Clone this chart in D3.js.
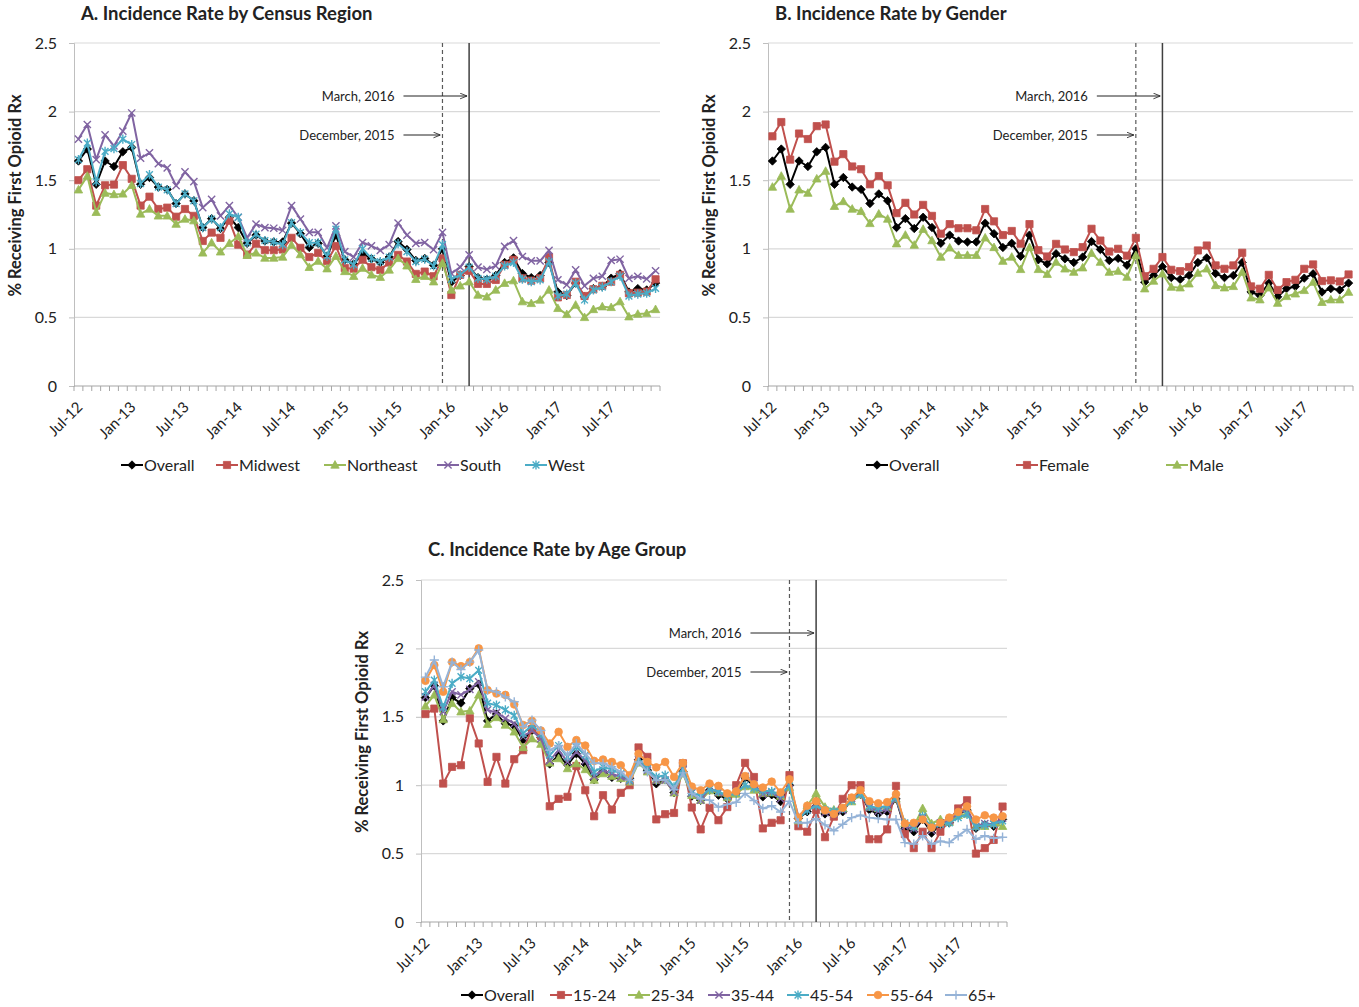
<!DOCTYPE html>
<html>
<head>
<meta charset="utf-8" />
<title>Incidence Rate of First Opioid Rx</title>
<script src="https://d3js.org/d3.v7.min.js"></script>
<style>
  body { margin: 0; background: #fff; }
  text { font-family: Lato, "Open Sans", sans-serif; fill: #222; }
</style>
</head>
<body>
<svg id="chart" width="1359" height="1007"></svg>
<script>
// ---- categories ----
var monthNames = ['Jan', 'Feb', 'Mar', 'Apr', 'May', 'Jun', 'Jul', 'Aug', 'Sep', 'Oct', 'Nov', 'Dec'];
var months = [];
for (var yr = 2012; yr <= 2017; yr++) {
  for (var mo = 0; mo < 12; mo++) {
    if (yr === 2012 && mo < 6) continue;
    months.push(monthNames[mo] + '-' + String(yr).slice(2));
  }
}
var yTicks = [0, 0.5, 1, 1.5, 2, 2.5];
var decLine = 'Dec-15';
var marLine = 'Mar-16';

// ---- series values (% receiving first opioid Rx) ----
var overall = [1.64,1.727,1.47,1.64,1.60,1.707,1.739,1.47,1.52,1.45,1.433,1.33,1.40,1.35,1.155,1.22,1.148,1.23,1.155,1.04,
  1.10,1.057,1.05,1.05,1.187,1.11,1.01,1.04,0.946,1.10,0.92,0.89,0.964,0.927,0.90,0.94,1.053,0.995,0.915,0.93,
  0.88,1.00,0.757,0.806,0.87,0.79,0.777,0.806,0.90,0.934,0.82,0.79,0.806,0.90,0.685,0.66,0.75,0.65,0.71,0.725,
  0.786,0.818,0.685,0.71,0.70,0.75];

var midwest = [1.50,1.58,1.315,1.463,1.468,1.61,1.51,1.315,1.38,1.29,1.30,1.234,1.29,1.24,1.057,1.118,1.08,1.205,1.03,0.958,
  1.037,0.99,0.99,0.995,1.08,1.007,0.94,0.97,0.91,1.02,0.86,0.855,0.92,0.866,0.846,0.90,0.956,0.907,0.817,0.834,
  0.80,0.93,0.663,0.81,0.84,0.744,0.744,0.773,0.883,0.92,0.785,0.768,0.785,0.94,0.646,0.663,0.76,0.656,0.705,0.73,
  0.76,0.81,0.676,0.68,0.688,0.778];
var northeast = [1.43,1.53,1.266,1.406,1.396,1.40,1.463,1.254,1.29,1.24,1.24,1.18,1.217,1.205,0.97,1.044,0.978,1.04,1.09,0.953,
  0.97,0.933,0.933,0.94,1.027,0.958,0.865,0.91,0.855,0.946,0.835,0.80,0.859,0.81,0.793,0.846,0.93,0.876,0.778,0.80,
  0.76,0.895,0.70,0.73,0.76,0.663,0.65,0.70,0.749,0.768,0.615,0.602,0.627,0.70,0.566,0.522,0.59,0.50,0.558,0.578,
  0.573,0.615,0.505,0.524,0.529,0.558];
var south = [1.80,1.906,1.65,1.83,1.75,1.857,1.99,1.66,1.70,1.62,1.59,1.46,1.56,1.49,1.30,1.36,1.24,1.315,1.23,1.08,
  1.18,1.155,1.15,1.135,1.315,1.217,1.12,1.12,1.007,1.167,0.98,0.94,1.046,1.022,0.988,1.03,1.188,1.10,1.04,1.046,
  0.993,1.12,0.82,0.866,0.956,0.866,0.85,0.876,1.017,1.06,0.944,0.912,0.912,0.988,0.773,0.737,0.846,0.73,0.785,0.80,
  0.915,0.924,0.785,0.80,0.78,0.84];
var west = [1.65,1.77,1.49,1.71,1.73,1.80,1.76,1.475,1.54,1.45,1.43,1.33,1.40,1.35,1.155,1.217,1.155,1.254,1.23,1.044,
  1.106,1.06,1.05,1.03,1.19,1.118,1.044,1.044,0.946,1.143,0.92,0.884,1.0,0.93,0.907,0.94,1.037,0.98,0.907,0.924,
  0.876,1.03,0.778,0.81,0.866,0.785,0.778,0.80,0.876,0.90,0.778,0.76,0.773,0.907,0.656,0.67,0.749,0.627,0.70,0.72,
  0.76,0.80,0.656,0.67,0.676,0.712];

var female = [1.82,1.924,1.65,1.84,1.80,1.894,1.906,1.635,1.69,1.60,1.58,1.47,1.53,1.463,1.26,1.335,1.25,1.32,1.24,1.11,
  1.18,1.15,1.15,1.135,1.29,1.20,1.10,1.13,1.037,1.18,0.99,0.944,1.036,0.995,0.976,1.012,1.146,1.06,0.98,1.0,
  0.95,1.08,0.80,0.854,0.94,0.847,0.837,0.867,0.988,1.024,0.879,0.854,0.879,0.971,0.726,0.709,0.81,0.70,0.757,0.774,
  0.854,0.886,0.765,0.77,0.762,0.813];
var male = [1.45,1.53,1.29,1.43,1.406,1.51,1.566,1.31,1.345,1.29,1.273,1.185,1.254,1.217,1.037,1.10,1.027,1.143,1.06,0.94,
  1.007,0.953,0.953,0.953,1.08,1.01,0.91,0.94,0.85,1.01,0.85,0.815,0.903,0.854,0.83,0.862,0.968,0.903,0.83,0.837,
  0.794,0.951,0.709,0.765,0.818,0.721,0.716,0.745,0.823,0.854,0.733,0.716,0.726,0.83,0.643,0.629,0.716,0.604,0.653,0.672,
  0.697,0.757,0.61,0.629,0.629,0.684];

var age1524 = [1.52,1.56,1.012,1.134,1.146,1.49,1.305,1.024,1.207,1.012,1.19,1.256,1.41,1.36,0.846,0.90,0.915,1.14,0.963,0.773,
  0.927,0.822,0.944,1.0,1.276,1.207,0.75,0.788,0.797,1.16,0.837,0.677,0.835,0.744,0.84,1.0,1.163,1.06,0.684,0.725,
  0.744,1.074,0.70,0.66,0.82,0.62,0.77,0.90,1.0,1.0,0.605,0.605,0.677,0.995,0.643,0.54,0.66,0.54,0.66,0.74,
  0.83,0.89,0.50,0.54,0.60,0.844];
var age2534 = [1.578,1.66,1.48,1.598,1.537,1.544,1.66,1.446,1.495,1.44,1.39,1.276,1.34,1.30,1.163,1.195,1.122,1.158,1.115,1.037,
  1.085,1.066,1.05,1.024,1.163,1.098,1.037,1.037,0.944,1.085,0.927,0.89,0.96,0.945,0.91,0.935,0.99,0.965,0.94,0.945,
  0.92,0.985,0.74,0.85,0.94,0.84,0.82,0.83,0.88,0.93,0.84,0.83,0.84,0.90,0.72,0.70,0.83,0.72,0.75,0.73,
  0.78,0.79,0.70,0.70,0.72,0.70];
var age3544 = [1.646,1.73,1.537,1.683,1.66,1.70,1.756,1.55,1.53,1.488,1.45,1.354,1.40,1.34,1.18,1.256,1.17,1.244,1.18,1.066,
  1.11,1.085,1.06,1.032,1.188,1.11,1.037,1.037,0.95,1.11,0.944,0.89,0.98,0.945,0.92,0.955,1.065,1.01,0.935,0.95,
  0.90,1.015,0.775,0.82,0.86,0.80,0.79,0.815,0.905,0.935,0.835,0.81,0.82,0.905,0.70,0.68,0.76,0.67,0.725,0.74,
  0.795,0.825,0.70,0.72,0.715,0.76];
var age4554 = [1.683,1.768,1.568,1.744,1.793,1.78,1.84,1.60,1.585,1.55,1.51,1.378,1.44,1.378,1.22,1.29,1.207,1.28,1.22,1.098,
  1.134,1.115,1.085,1.037,1.195,1.122,1.06,1.073,0.988,1.122,0.95,0.92,0.97,0.955,0.923,0.947,1.0,0.978,0.96,0.955,
  0.935,0.995,0.75,0.816,0.85,0.82,0.81,0.828,0.888,0.94,0.845,0.835,0.85,0.91,0.725,0.696,0.773,0.696,0.715,0.725,
  0.763,0.787,0.696,0.708,0.715,0.74];
var age5564 = [1.763,1.878,1.683,1.90,1.87,1.90,2.0,1.695,1.67,1.66,1.59,1.44,1.47,1.40,1.305,1.39,1.28,1.33,1.29,1.178,
  1.188,1.17,1.146,1.073,1.23,1.17,1.13,1.17,1.06,1.163,0.99,0.963,1.012,0.995,0.94,0.955,1.067,1.007,0.983,1.026,
  0.947,1.043,0.763,0.85,0.883,0.816,0.79,0.835,0.91,0.964,0.883,0.868,0.876,0.935,0.72,0.725,0.749,0.69,0.725,0.763,
  0.804,0.845,0.749,0.78,0.763,0.773];
var age65 = [1.79,1.915,1.72,1.90,1.846,1.90,1.988,1.695,1.683,1.646,1.61,1.427,1.476,1.40,1.256,1.29,1.22,1.305,1.23,1.16,
  1.16,1.134,1.098,1.037,1.17,1.098,1.037,1.04,0.968,1.09,0.94,0.90,0.89,0.84,0.86,0.875,0.94,0.888,0.83,0.85,
  0.804,0.883,0.725,0.725,0.756,0.71,0.667,0.715,0.763,0.78,0.763,0.756,0.749,0.749,0.58,0.57,0.63,0.57,0.59,0.58,
  0.63,0.677,0.605,0.63,0.612,0.62];

// ---- styling ----
var colors = { black: '#000000', red: '#C0504D', green: '#9BBB59', purple: '#8064A2', cyan: '#4BACC6', orange: '#F79646', lblue: '#95B3D7' };

var svg = d3.select('#chart');

function markerPath(type) {
  switch (type) {
    case 'diamond': return 'M0,-4.2L4.2,0L0,4.2L-4.2,0Z';
    case 'square': return 'M-3.6,-3.6H3.6V3.6H-3.6Z';
    case 'triangle': return 'M0,-4.4L4.2,3.2L-4.2,3.2Z';
    case 'x': return 'M-3.6,-3.6L3.6,3.6M-3.6,3.6L3.6,-3.6';
    case 'asterisk': return 'M-3.4,-3.4L3.4,3.4M-3.4,3.4L3.4,-3.4M0,-4.6V4.6';
    case 'circle': return d3.symbol().type(d3.symbolCircle).size(46)();
    case 'plus': return 'M-4.6,0H4.6M0,-4.6V4.6';
  }
}
var filled = { diamond: true, square: true, triangle: true, circle: true };

function drawMarker(sel, type, color) {
  sel.attr('d', markerPath(type))
    .attr('fill', filled[type] ? color : 'none')
    .attr('stroke', color)
    .attr('stroke-width', filled[type] ? 0.8 : 1.4);
}

function drawPanel(p) {
  var g = svg.append('g');
  var x = d3.scaleBand().domain(months).range([p.left, p.right]);
  var y = d3.scaleLinear().domain([0, 2.5]).range([p.bottom, p.top]);
  var cx = function (m) { return x(m) + x.bandwidth() / 2; };

  // gridlines
  g.append('g')
    .selectAll('line')
    .data(yTicks.filter(function (d) { return d > 0; }))
    .enter()
    .append('line')
    .attr('x1', p.left)
    .attr('x2', p.right)
    .attr('y1', function (d) { return y(d); })
    .attr('y2', function (d) { return y(d); })
    .attr('stroke', '#d9d9d9')
    .attr('stroke-width', 1.2);

  // y axis
  var ya = g.append('g')
    .attr('transform', 'translate(' + p.left + ',0)')
    .call(d3.axisLeft(y).tickValues(yTicks).tickSize(5).tickPadding(12).tickFormat(function (d) { return d; }));
  ya.select('.domain').attr('stroke', '#bfbfbf');
  ya.selectAll('.tick line').attr('stroke', '#bfbfbf');
  ya.selectAll('.tick text').style('font-size', '16px').style('font-family', 'Lato, sans-serif').attr('fill', '#222');

  // x axis: tick at every category boundary, label every 6 months
  var xa = g.append('g');
  xa.append('line')
    .attr('x1', p.left).attr('x2', p.right)
    .attr('y1', p.bottom).attr('y2', p.bottom)
    .attr('stroke', '#a6a6a6').attr('stroke-width', 1.2);
  xa.selectAll('.mt')
    .data(months.concat(['end']))
    .enter()
    .append('line')
    .attr('x1', function (d, i) { return p.left + i * x.bandwidth(); })
    .attr('x2', function (d, i) { return p.left + i * x.bandwidth(); })
    .attr('y1', p.bottom)
    .attr('y2', p.bottom + 5)
    .attr('stroke', '#a6a6a6');
  xa.selectAll('.lbl')
    .data(months.filter(function (d, i) { return i % 6 === 0; }))
    .enter()
    .append('text')
    .attr('transform', function (d) { return 'translate(' + (cx(d) + 5) + ',' + (p.bottom + 22) + ') rotate(-45)'; })
    .attr('text-anchor', 'end')
    .style('font-size', '15px')
    .text(function (d) { return d; });

  // reference lines
  g.append('line')
    .attr('x1', cx(decLine)).attr('x2', cx(decLine))
    .attr('y1', p.top).attr('y2', p.bottom)
    .attr('stroke', '#595959').attr('stroke-width', 1.2).attr('stroke-dasharray', '4,3');
  g.append('line')
    .attr('x1', cx(marLine)).attr('x2', cx(marLine))
    .attr('y1', p.top).attr('y2', p.bottom)
    .attr('stroke', '#404040').attr('stroke-width', 1.5);

  // annotations
  var ax = cx(decLine) - 39;
  [[marLine, 'March, 2016', p.top + 53], [decLine, 'December, 2015', p.top + 92]].forEach(function (a) {
    g.append('text')
      .attr('x', ax - 9).attr('y', a[2])
      .attr('dy', '0.35em')
      .attr('text-anchor', 'end')
      .style('font-size', '13px')
      .text(a[1]);
    g.append('line')
      .attr('x1', ax).attr('x2', cx(a[0]) - 2)
      .attr('y1', a[2]).attr('y2', a[2])
      .attr('stroke', '#222').attr('stroke-width', 1)
      .attr('marker-end', 'url(#arrow)');
  });

  // series
  var line = d3.line()
    .x(function (d, i) { return cx(months[i]); })
    .y(function (d) { return y(d); });
  p.series.forEach(function (s) {
    g.append('path')
      .datum(s.values)
      .attr('d', line)
      .attr('fill', 'none')
      .attr('stroke', s.color)
      .attr('stroke-width', 2)
      .attr('stroke-linejoin', 'round');
    g.append('g')
      .selectAll('path')
      .data(s.values)
      .enter()
      .append('path')
      .attr('transform', function (d, i) { return 'translate(' + cx(months[i]) + ',' + y(d) + ')'; })
      .call(drawMarker, s.marker, s.color);
  });

  // title and axis title
  g.append('text')
    .attr('x', p.titleX).attr('y', p.titleY)
    .style('font-size', '18.5px').style('font-weight', 'bold')
    .text(p.title);
  g.append('text')
    .attr('transform', 'translate(' + (p.left - 53) + ',' + ((p.top + p.bottom) / 2 - 19) + ') rotate(-90)')
    .attr('text-anchor', 'middle')
    .style('font-size', '16.5px').style('font-weight', 'bold')
    .text('% Receiving First Opioid Rx');

  // legend
  var lg = g.append('g');
  p.series.forEach(function (s, i) {
    var sx = p.legendX[i];
    lg.append('line')
      .attr('x1', sx).attr('x2', sx + 22)
      .attr('y1', p.legendY).attr('y2', p.legendY)
      .attr('stroke', s.color).attr('stroke-width', 2);
    lg.append('path')
      .attr('transform', 'translate(' + (sx + 11) + ',' + p.legendY + ')')
      .call(drawMarker, s.marker, s.color);
    lg.append('text')
      .attr('x', sx + 23).attr('y', p.legendY)
      .attr('dy', '0.35em')
      .style('font-size', '16px')
      .text(s.name);
  });
}

svg.append('defs').append('marker')
  .attr('id', 'arrow')
  .attr('viewBox', '0 0 10 10')
  .attr('refX', 10).attr('refY', 5)
  .attr('markerWidth', 7).attr('markerHeight', 7)
  .attr('orient', 'auto')
  .append('path')
  .attr('d', 'M0,1L10,5L0,9')
  .attr('fill', 'none')
  .attr('stroke', '#222')
  .attr('stroke-width', 1.2);

drawPanel({
  left: 74, right: 660, top: 43, bottom: 386,
  title: 'A. Incidence Rate by Census Region', titleX: 81, titleY: 20,
  legendX: [121, 216, 324, 437, 525], legendY: 465,
  series: [
    { name: 'Overall', values: overall, color: colors.black, marker: 'diamond' },
    { name: 'Midwest', values: midwest, color: colors.red, marker: 'square' },
    { name: 'Northeast', values: northeast, color: colors.green, marker: 'triangle' },
    { name: 'South', values: south, color: colors.purple, marker: 'x' },
    { name: 'West', values: west, color: colors.cyan, marker: 'asterisk' }
  ]
});

drawPanel({
  left: 768, right: 1353, top: 43, bottom: 386,
  title: 'B. Incidence Rate by Gender', titleX: 775, titleY: 20,
  legendX: [866, 1016, 1166], legendY: 465,
  series: [
    { name: 'Overall', values: overall, color: colors.black, marker: 'diamond' },
    { name: 'Female', values: female, color: colors.red, marker: 'square' },
    { name: 'Male', values: male, color: colors.green, marker: 'triangle' }
  ]
});

drawPanel({
  left: 421, right: 1007, top: 580, bottom: 922,
  title: 'C. Incidence Rate by Age Group', titleX: 428, titleY: 556,
  legendX: [461, 550, 628, 708, 787, 867, 945], legendY: 995,
  series: [
    { name: 'Overall', values: overall, color: colors.black, marker: 'diamond' },
    { name: '15-24', values: age1524, color: colors.red, marker: 'square' },
    { name: '25-34', values: age2534, color: colors.green, marker: 'triangle' },
    { name: '35-44', values: age3544, color: colors.purple, marker: 'x' },
    { name: '45-54', values: age4554, color: colors.cyan, marker: 'asterisk' },
    { name: '55-64', values: age5564, color: colors.orange, marker: 'circle' },
    { name: '65+', values: age65, color: colors.lblue, marker: 'plus' }
  ]
});
</script>
</body>
</html>
